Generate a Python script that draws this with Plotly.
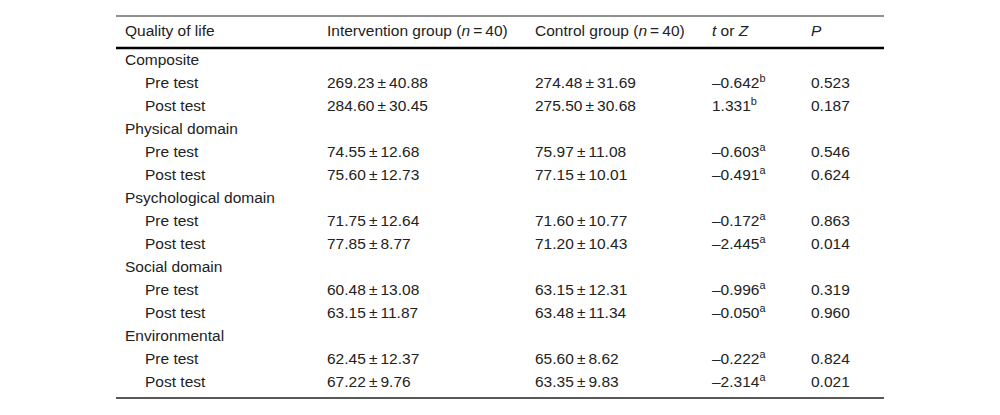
import plotly.graph_objects as go

TS = "\u2009"  # thin space

headers = ["Quality of life", "Intervention group (<i>n</i>" + TS + "=" + TS + "40)",
           "Control group (<i>n</i>" + TS + "=" + TS + "40)", "<i>t</i> or <i>Z</i>", "<i>P</i>"]

domains = ["Composite", "Physical domain", "Psychological domain", "Social domain", "Environmental"]
phases = ["Pre test", "Post test"]

interv_mean = [269.23, 284.60, 74.55, 75.60, 71.75, 77.85, 60.48, 63.15, 62.45, 67.22]
interv_sd = [40.88, 30.45, 12.68, 12.73, 12.64, 8.77, 13.08, 11.87, 12.37, 9.76]
ctrl_mean = [274.48, 275.50, 75.97, 77.15, 71.60, 71.20, 63.15, 63.48, 65.60, 63.35]
ctrl_sd = [31.69, 30.68, 11.08, 10.01, 10.77, 10.43, 12.31, 11.34, 8.62, 9.83]
stat_vals = [-0.642, 1.331, -0.603, -0.491, -0.172, -2.445, -0.996, -0.050, -0.222, -2.314]
stat_marks = ["b", "b", "a", "a", "a", "a", "a", "a", "a", "a"]
p_vals = ["0.523", "0.187", "0.546", "0.624", "0.863", "0.014", "0.319", "0.960", "0.824", "0.021"]

# layout constants (pixel coordinates of the window)
W, H = 1000, 415
OFF = 8  # page body margin
col_x = [125, 327, 535, 712, 811]
indent = 20
header_y = 32.5
first_row_y = 61.5
row_step = 23
x_left, x_right = 116, 884
top_line_y, head_line_y, bottom_line_y = 16, 48, 398
font = dict(family="Liberation Sans, Arial, sans-serif", size=15.5, color="#222222")


def fmt_stat(v, m):
    s = f"{abs(v):.3f}"
    if v < 0:
        s = "\u2013" + s
    return s + f"<sup>{m}</sup>"


col_texts = [[], [], [], [], []]
col_ys = [[], [], [], [], []]
col_xs = [[], [], [], [], []]
r = 0
k = 0
for d in domains:
    y = first_row_y + r * row_step
    col_texts[0].append(d); col_ys[0].append(y); col_xs[0].append(col_x[0])
    r += 1
    for ph in phases:
        y = first_row_y + r * row_step
        col_texts[0].append(ph); col_ys[0].append(y); col_xs[0].append(col_x[0] + indent)
        col_texts[1].append(f"{interv_mean[k]:.2f}{TS}±{TS}{interv_sd[k]:.2f}")
        col_texts[2].append(f"{ctrl_mean[k]:.2f}{TS}±{TS}{ctrl_sd[k]:.2f}")
        col_texts[3].append(fmt_stat(stat_vals[k], stat_marks[k]))
        col_texts[4].append(p_vals[k])
        for c in range(1, 5):
            col_ys[c].append(y); col_xs[c].append(col_x[c])
        r += 1
        k += 1

fig = go.Figure()
fig.add_trace(go.Scatter(x=col_x, y=[header_y] * len(col_x), text=headers, mode="text",
                         textposition="middle right", textfont=font, hoverinfo="skip"))
for c in range(5):
    fig.add_trace(go.Scatter(x=col_xs[c], y=col_ys[c], text=col_texts[c], mode="text",
                             textposition="middle right", textfont=font, hoverinfo="skip"))

shapes = [
    dict(type="line", x0=x_left, x1=x_right, y0=top_line_y, y1=top_line_y, line=dict(color="#222", width=1)),
    dict(type="line", x0=x_left, x1=x_right, y0=head_line_y, y1=head_line_y, line=dict(color="#000", width=2.5)),
    dict(type="line", x0=x_left, x1=x_right, y0=bottom_line_y, y1=bottom_line_y, line=dict(color="#222", width=1.5)),
]

fig.update_layout(
    width=W, height=H, margin=dict(l=0, r=0, t=0, b=0),
    paper_bgcolor="white", plot_bgcolor="white", showlegend=False,
    xaxis=dict(range=[OFF, W + OFF], visible=False, fixedrange=True),
    yaxis=dict(range=[H + OFF, OFF], visible=False, fixedrange=True),
    shapes=shapes,
)
fig.write_html("out.html")
